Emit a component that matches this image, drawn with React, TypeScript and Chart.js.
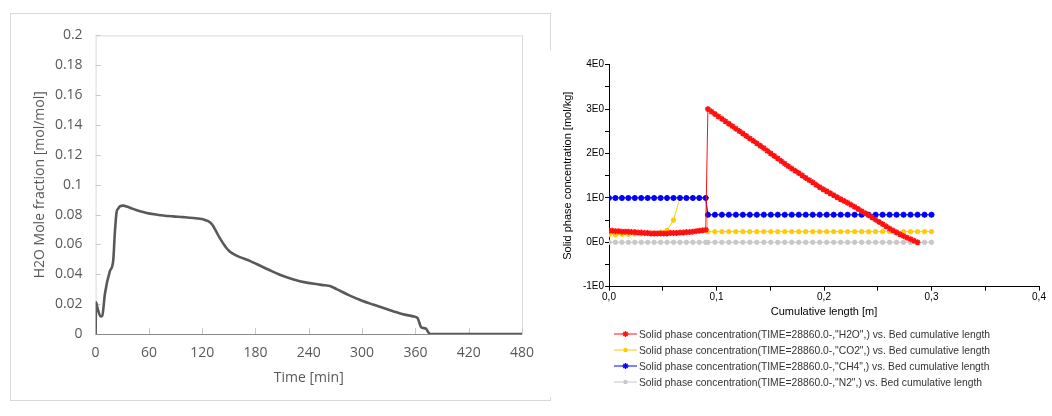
import React, { useEffect, useRef } from "react";
import { Chart, registerables } from "chart.js";
Chart.register(...registerables);

// ---------- Left chart data: H2O mole fraction vs time ----------
const timeMin = [
  0, 0.5, 2.5, 5.6, 7.5, 10.5, 16, 19.8, 21.7, 23.6, 25.5, 27.3, 31, 36, 42, 50,
  57.4, 66, 76, 87, 98.6, 110, 121, 126, 131, 136, 140, 143.6, 147, 151, 156,
  162.4, 173.6, 181.2, 195, 207.4, 222, 237.5, 250, 258, 263.7, 271.2, 286.2,
  300, 312.4, 325, 334.9, 345, 357.4, 362.5, 364.5, 366.5, 372, 374, 377, 480,
];
const h2oMoleFraction = [
  0, 0.0213, 0.0165, 0.0118, 0.0122, 0.027, 0.042, 0.049, 0.068, 0.0816, 0.084,
  0.0855, 0.086, 0.0852, 0.0838, 0.0822, 0.0811, 0.0802, 0.0794, 0.0788, 0.0783,
  0.0777, 0.0768, 0.0758, 0.0735, 0.0684, 0.064, 0.0607, 0.0578, 0.0553, 0.0533,
  0.0515, 0.049, 0.0469, 0.043, 0.0397, 0.0367, 0.0344, 0.0333, 0.0326, 0.0322,
  0.0301, 0.0257, 0.0223, 0.0197, 0.0172, 0.0153, 0.0134, 0.0118, 0.0106,
  0.0075, 0.0044, 0.0036, 0.0015, 0, 0,
];

// ---------- Right chart data: solid phase concentration vs bed length ----------
// H2O nodes (denser grid)
const h2oBedLength = [
  0, 0.003, 0.006, 0.009, 0.012, 0.015, 0.018, 0.021, 0.024, 0.027, 0.03, 0.033,
  0.036, 0.039, 0.042, 0.045, 0.048, 0.051, 0.054, 0.057, 0.06, 0.063, 0.066,
  0.069, 0.072, 0.075, 0.078, 0.081, 0.084, 0.087, 0.09,
  0.092, 0.09525, 0.0985, 0.10175, 0.105, 0.10825, 0.1115, 0.11475, 0.118,
  0.12125, 0.1245, 0.12775, 0.131, 0.13425, 0.1375, 0.14075, 0.144, 0.14725,
  0.1505, 0.15375, 0.157, 0.16025, 0.1635, 0.16675, 0.17, 0.17325, 0.1765,
  0.17975, 0.183, 0.18625, 0.1895, 0.19275, 0.196, 0.19925, 0.2025, 0.20575,
  0.209, 0.21225, 0.2155, 0.21875, 0.222, 0.22525, 0.2285, 0.23175, 0.235,
  0.23825, 0.2415, 0.24475, 0.248, 0.25125, 0.2545, 0.25775, 0.261, 0.26425,
  0.2675, 0.27075, 0.274, 0.27725, 0.2805, 0.28375, 0.287,
];
const h2oSolid = [
  0.26, 0.26, 0.25, 0.25, 0.24, 0.24, 0.24, 0.23, 0.23, 0.22, 0.22, 0.21, 0.21,
  0.2, 0.2, 0.2, 0.2, 0.2, 0.2, 0.21, 0.21, 0.21, 0.22, 0.22, 0.23, 0.23, 0.24,
  0.25, 0.26, 0.27, 0.28,
  3.0, 2.945, 2.89, 2.835, 2.78, 2.725, 2.67, 2.615, 2.56, 2.505, 2.45, 2.395,
  2.34, 2.285, 2.23, 2.175, 2.12, 2.06, 2.0, 1.945, 1.89, 1.83, 1.77, 1.715,
  1.66, 1.61, 1.56, 1.505, 1.45, 1.4, 1.35, 1.295, 1.24, 1.195, 1.15, 1.105,
  1.06, 1.015, 0.97, 0.93, 0.89, 0.845, 0.8, 0.75, 0.7, 0.655, 0.61, 0.56, 0.51,
  0.46, 0.41, 0.36, 0.31, 0.265, 0.22, 0.18, 0.14, 0.105, 0.07, 0.035, 0.0,
];
// CO2 / CH4 / N2 nodes
const bedLength = [
  0, 0.006, 0.012, 0.018, 0.024, 0.03, 0.036, 0.042, 0.048, 0.054, 0.06, 0.066,
  0.072, 0.078, 0.084, 0.09,
  0.092, 0.0985, 0.105, 0.1115, 0.118, 0.1245, 0.131, 0.1375, 0.144, 0.1505,
  0.157, 0.1635, 0.17, 0.1765, 0.183, 0.1895, 0.196, 0.2025, 0.209, 0.2155,
  0.222, 0.2285, 0.235, 0.2415, 0.248, 0.2545, 0.261, 0.2675, 0.274, 0.2805,
  0.287, 0.2935, 0.3,
];
const co2Solid = [
  0.17, 0.17, 0.18, 0.18, 0.19, 0.19, 0.2, 0.21, 0.23, 0.27, 0.5, 1.0, 1.0, 1.0,
  1.0, 1.0,
  0.24, 0.24, 0.24, 0.24, 0.24, 0.24, 0.24, 0.24, 0.24, 0.24, 0.24, 0.24, 0.24,
  0.24, 0.24, 0.24, 0.24, 0.24, 0.24, 0.24, 0.24, 0.24, 0.24, 0.24, 0.24, 0.24,
  0.24, 0.24, 0.24, 0.24, 0.24, 0.24, 0.24,
];
const ch4Solid = [
  1.0, 1.0, 1.0, 1.0, 1.0, 1.0, 1.0, 1.0, 1.0, 1.0, 1.0, 1.0, 1.0, 1.0, 1.0, 1.0,
  0.62, 0.62, 0.62, 0.62, 0.62, 0.62, 0.62, 0.62, 0.62, 0.62, 0.62, 0.62, 0.62,
  0.62, 0.62, 0.62, 0.62, 0.62, 0.62, 0.62, 0.62, 0.62, 0.62, 0.62, 0.62, 0.62,
  0.62, 0.62, 0.62, 0.62, 0.62, 0.62, 0.62,
];
const n2Solid = [
  0, 0, 0, 0, 0, 0, 0, 0, 0, 0, 0, 0, 0, 0, 0, 0,
  0, 0, 0, 0, 0, 0, 0, 0, 0, 0, 0, 0, 0, 0, 0, 0, 0, 0, 0, 0, 0, 0, 0, 0, 0, 0,
  0, 0, 0, 0, 0, 0, 0,
];
const legendLabels = [
  'Solid phase concentration(TIME=28860.0-,"H2O",) vs. Bed cumulative length',
  'Solid phase concentration(TIME=28860.0-,"CO2",) vs. Bed cumulative length',
  'Solid phase concentration(TIME=28860.0-,"CH4",) vs. Bed cumulative length',
  'Solid phase concentration(TIME=28860.0-,"N2",) vs. Bed cumulative length',
];
const seriesColors = ["#ff1010", "#ffcc00", "#0000ff", "#c8c8c8"];
const seriesMarkers = ["star", "circle", "star", "circle"];

const excelFrame = {
  id: "excelFrame",
  beforeDatasetsDraw(chart: any) {
    const { ctx, chartArea: a, scales } = chart;
    ctx.save();
    ctx.lineWidth = 1;
    ctx.strokeStyle = "#d9d9d9";
    ctx.strokeRect(a.left + 0.5, a.top + 0.5, a.right - a.left, a.bottom - a.top);
    ctx.strokeStyle = "#c8c8c8";
    ctx.beginPath();
    scales.x.ticks.forEach((t: any) => {
      const px = Math.round(scales.x.getPixelForValue(t.value)) + 0.5;
      ctx.moveTo(px, a.bottom);
      ctx.lineTo(px, a.bottom - 6);
    });
    scales.y.ticks.forEach((t: any) => {
      const py = Math.round(scales.y.getPixelForValue(t.value)) + 0.5;
      ctx.moveTo(a.left, py);
      ctx.lineTo(a.left + 5, py);
    });
    ctx.stroke();
    ctx.strokeStyle = "#8a8a8a";
    ctx.beginPath();
    ctx.moveTo(a.left, Math.round(a.bottom) + 0.5);
    ctx.lineTo(a.right, Math.round(a.bottom) + 0.5);
    ctx.stroke();
    ctx.restore();
  },
};

function LeftChart() {
  const ref = useRef<HTMLCanvasElement>(null);
  useEffect(() => {
    const font = { family: "'Open Sans', sans-serif", size: 14 };
    const chart = new Chart(ref.current!, {
      type: "line",
      data: {
        datasets: [
          {
            data: timeMin.map((x, i) => ({ x, y: h2oMoleFraction[i] })),
            borderColor: "#595959",
            borderWidth: 2.6,
            pointRadius: 0,
            cubicInterpolationMode: "monotone",
          },
        ],
      },
      options: {
        animation: false,
        responsive: false,
        devicePixelRatio: 1,
        layout: { padding: { left: 17, right: 28, top: 16, bottom: 9.6 } },
        plugins: { legend: { display: false }, tooltip: { enabled: false } },
        scales: {
          x: {
            type: "linear",
            min: 0,
            max: 480,
            grid: { display: false, drawTicks: false },
            border: { display: false },
            ticks: { stepSize: 60, color: "#595959", font, padding: 11, maxRotation: 0, autoSkip: false },
            title: { display: true, text: "Time [min]", color: "#595959", font, padding: { top: 4, bottom: 4 } },
            afterFit: (s: any) => { s.height = 56.4; },
          },
          y: {
            min: 0,
            max: 0.2,
            grid: { display: false, drawTicks: false },
            border: { display: false },
            ticks: {
              stepSize: 0.02,
              color: "#595959",
              font,
              padding: 13,
              callback: (v: any) => String(Math.round(Number(v) * 100) / 100),
            },
            title: { display: true, text: "H2O Mole fraction [mol/mol]", color: "#595959", font, padding: { top: 4, bottom: 4 } },
            afterFit: (s: any) => { s.width = 67.6; },
          },
        },
      },
      plugins: [excelFrame],
    } as any);
    return () => chart.destroy();
  }, []);
  return <canvas ref={ref} width={539} height={386} style={{ display: "block" }} />;
}

function RightChart() {
  const ref = useRef<HTMLCanvasElement>(null);
  useEffect(() => {
    const tickFont = { family: "'Liberation Sans', Arial, sans-serif", size: 10 };
    const titleFont = { family: "'Liberation Sans', Arial, sans-serif", size: 11 };
    const xs = [h2oBedLength, bedLength, bedLength, bedLength];
    const values = [h2oSolid, co2Solid, ch4Solid, n2Solid];
    const orders = [0, 2, 1, 3];
    const radii = [3, 2.2, 3, 2.2];
    const borders = [1.5, 1, 1.8, 1];
    const chart = new Chart(ref.current!, {
      type: "line",
      data: {
        datasets: values.map((vals, k) => ({
          label: legendLabels[k],
          data: xs[k].map((x, i) => ({ x, y: vals[i] })),
          borderColor: seriesColors[k],
          backgroundColor: seriesColors[k],
          borderWidth: 1,
          pointStyle: seriesMarkers[k],
          pointRadius: radii[k],
          pointBorderWidth: borders[k],
          pointBorderColor: seriesColors[k],
          pointBackgroundColor: seriesColors[k],
          order: orders[k],
          tension: 0,
        })),
      },
      options: {
        animation: false,
        responsive: false,
        devicePixelRatio: 1,
        layout: { padding: { left: 8.4, right: 13, top: 14.7, bottom: 74.4 } },
        plugins: { legend: { display: false }, tooltip: { enabled: false } },
        scales: {
          x: {
            type: "linear",
            min: 0,
            max: 0.4,
            grid: { display: true, drawOnChartArea: false, drawTicks: true, tickLength: 4, color: "#000" },
            border: { display: true, color: "#000" },
            ticks: {
              stepSize: 0.05,
              color: "#000",
              font: tickFont,
              padding: 1,
              maxRotation: 0,
              autoSkip: false,
              callback: (v: any) => {
                const n = Number(v) * 10;
                return Math.abs(n - Math.round(n)) < 1e-6 ? (Math.round(n) / 10).toFixed(1).replace(".", ",") : "";
              },
            },
            title: { display: true, text: "Cumulative length [m]", color: "#000", font: titleFont, padding: { top: 4, bottom: 4 } },
            afterFit: (s: any) => { s.height = 35.9; },
          },
          y: {
            min: -1,
            max: 4,
            grid: { display: true, drawOnChartArea: false, drawTicks: true, tickLength: 4, color: "#000" },
            border: { display: true, color: "#000" },
            ticks: {
              stepSize: 0.5,
              color: "#000",
              font: tickFont,
              padding: 1,
              autoSkip: false,
              callback: (v: any) => {
                const n = Number(v);
                return Math.abs(n - Math.round(n)) < 1e-6 ? `${Math.round(n)}E0` : "";
              },
            },
            title: { display: true, text: "Solid phase concentration [mol/kg]", color: "#000", font: titleFont, padding: { top: 4, bottom: 4 } },
            afterFit: (s: any) => { s.width = 51.6; },
          },
        },
      },
    } as any);
    return () => chart.destroy();
  }, []);
  return <canvas ref={ref} width={503} height={347} style={{ display: "block" }} />;
}

function LegendMarker({ color, marker }: { color: string; marker: string }) {
  return (
    <svg width={23} height={10} style={{ display: "block" }}>
      <line x1={0} y1={5} x2={23} y2={5} stroke={color} strokeWidth={1} />
      {marker === "star" ? (
        <g stroke={color} strokeWidth={1.4}>
          <line x1={8.5} y1={5} x2={14.5} y2={5} />
          <line x1={11.5} y1={2} x2={11.5} y2={8} />
          <line x1={9.4} y1={2.9} x2={13.6} y2={7.1} />
          <line x1={13.6} y1={2.9} x2={9.4} y2={7.1} />
        </g>
      ) : (
        <circle cx={11.5} cy={5} r={2.2} fill={color} />
      )}
    </svg>
  );
}

export default function App() {
  return (
    <div style={{ position: "absolute", left: 0, top: 0, width: 1052, height: 416 }}>
      <div
        style={{
          position: "absolute",
          left: 10,
          top: 13,
          width: 539,
          height: 386,
          border: "1px solid #d9d9d9",
          background: "#fff",
        }}
      >
        <LeftChart />
      </div>
      <div style={{ position: "absolute", left: 549, top: 50, width: 503, height: 347, background: "#fff" }}>
        <RightChart />
      </div>
      <div
        style={{
          position: "absolute",
          left: 614,
          top: 326,
          fontFamily: "'Liberation Sans', Arial, sans-serif",
          fontSize: 10.3,
          color: "#333",
        }}
      >
        {legendLabels.map((t, k) => (
          <div key={k} style={{ display: "flex", alignItems: "center", height: 16, whiteSpace: "nowrap" }}>
            <LegendMarker color={seriesColors[k]} marker={seriesMarkers[k]} />
            <span style={{ marginLeft: 2 }}>{t}</span>
          </div>
        ))}
      </div>
    </div>
  );
}
